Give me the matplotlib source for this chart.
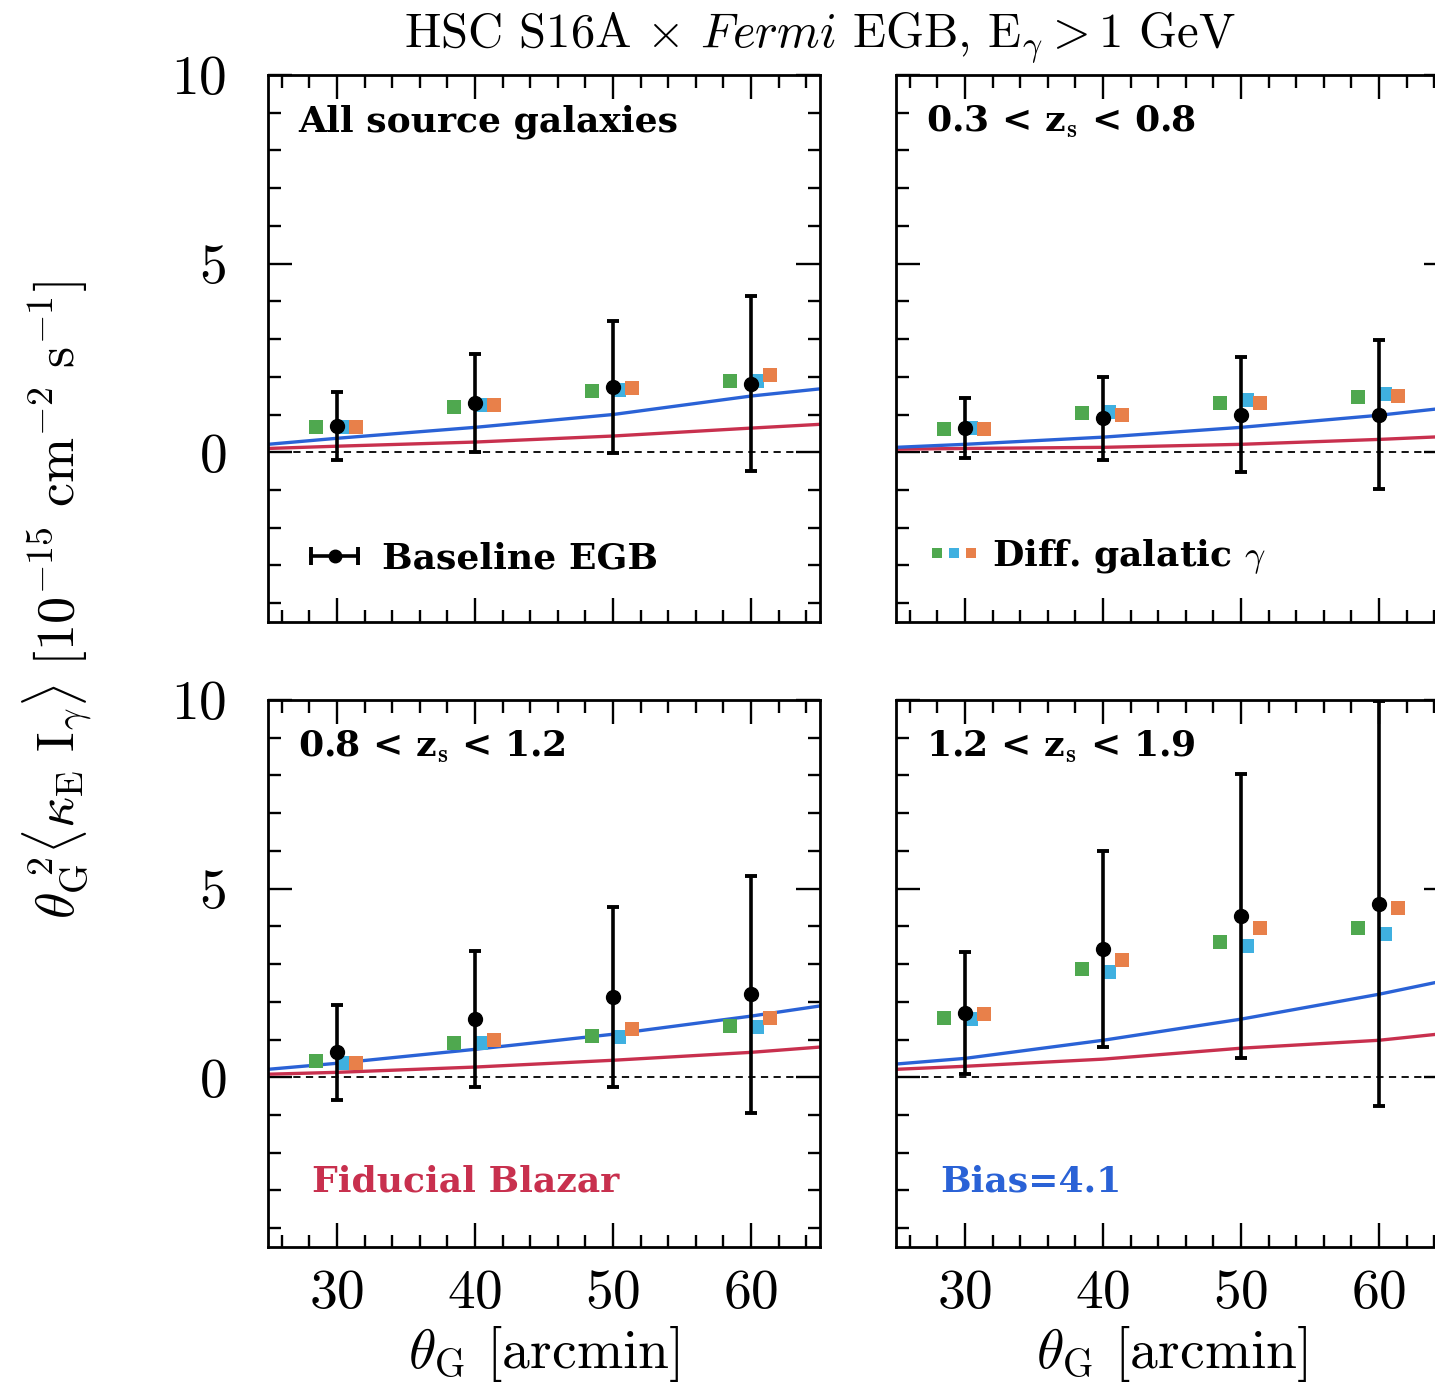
import numpy as np
import matplotlib
matplotlib.use('Agg')
import matplotlib.pyplot as plt
from matplotlib.lines import Line2D
from matplotlib.legend_handler import HandlerTuple, HandlerLine2D

plt.rcParams['font.family'] = 'cmr10'
plt.rcParams['mathtext.fontset'] = 'cm'
plt.rcParams['axes.formatter.use_mathtext'] = True

# measured points, theta_G in arcmin
theta = [30, 40, 50, 60]
theta_model = [25, 30, 40, 50, 60, 65]

labels = ['All source galaxies',
          r'0.3 < z$_\mathbf{s}$ < 0.8',
          r'0.8 < z$_\mathbf{s}$ < 1.2',
          r'1.2 < z$_\mathbf{s}$ < 1.9']

# baseline EGB cross-correlation and 1-sigma errors
egb = [[0.69, 1.30, 1.73, 1.81],
       [0.64, 0.90, 1.00, 1.00],
       [0.66, 1.54, 2.13, 2.20],
       [1.70, 3.40, 4.28, 4.60]]
egb_err = [[0.90, 1.30, 1.75, 2.32],
           [0.80, 1.10, 1.52, 1.97],
           [1.26, 1.81, 2.38, 3.14],
           [1.61, 2.60, 3.77, 5.37]]

# diffuse galactic gamma-ray model variants
diff_green = [[0.66, 1.20, 1.62, 1.89],
              [0.61, 1.04, 1.30, 1.46],
              [0.43, 0.90, 1.09, 1.36],
              [1.57, 2.87, 3.59, 3.96]]
diff_cyan = [[0.66, 1.25, 1.65, 1.89],
             [0.64, 1.07, 1.38, 1.54],
             [0.37, 0.90, 1.06, 1.33],
             [1.54, 2.80, 3.48, 3.80]]
diff_orange = [[0.66, 1.25, 1.70, 2.05],
               [0.61, 1.00, 1.30, 1.49],
               [0.37, 1.00, 1.28, 1.57],
               [1.68, 3.11, 3.96, 4.49]]

# model curves
bias_model = [[0.21, 0.37, 0.66, 1.00, 1.49, 1.68],
              [0.13, 0.21, 0.40, 0.66, 0.98, 1.18],
              [0.21, 0.37, 0.74, 1.14, 1.62, 1.89],
              [0.35, 0.50, 0.98, 1.54, 2.20, 2.58]]
blazar_model = [[0.10, 0.16, 0.27, 0.43, 0.64, 0.74],
                [0.08, 0.10, 0.13, 0.21, 0.34, 0.42],
                [0.08, 0.13, 0.27, 0.45, 0.66, 0.80],
                [0.21, 0.29, 0.48, 0.77, 0.98, 1.17]]

c_blue = '#2a62d6'
c_red = '#c8304e'
c_green = '#4fa84f'
c_cyan = '#3fb0e0'
c_orange = '#e8804a'

fig = plt.figure(figsize=(14.35, 13.86), dpi=100)
W, H = 1435.0, 1386.0
lefts = [268, 896]
tops = [75, 700]
aw, ah = 552, 547

axes = []
for r in range(2):
    for c in range(2):
        ax = fig.add_axes([lefts[c] / W, 1 - (tops[r] + ah) / H, aw / W, ah / H])
        axes.append(ax)

th = np.array(theta, dtype=float)
lab_font = {'family': 'DejaVu Serif', 'weight': 'bold', 'size': 26}
for i, ax in enumerate(axes):
    ax.axhline(0, color='k', ls=(0, (4, 3)), lw=1.3, zorder=1)
    ax.plot(theta_model, blazar_model[i], color=c_red, lw=2.4, zorder=2)
    ax.plot(theta_model, bias_model[i], color=c_blue, lw=2.4, zorder=2)
    ax.plot(th - 1.5, diff_green[i], 's', color=c_green, ms=9.5, mew=0, zorder=3)
    ax.plot(th + 0.4, diff_cyan[i], 's', color=c_cyan, ms=9.5, mew=0, zorder=3)
    ax.plot(th + 1.4, diff_orange[i], 's', color=c_orange, ms=9.5, mew=0, zorder=3)
    ax.errorbar(theta, egb[i], yerr=egb_err[i], fmt='o', color='k', ms=10,
                elinewidth=2.6, capsize=4.5, capthick=2.8, zorder=4)

    ax.set_xlim(25, 65)
    ax.set_ylim(-4.5, 10)
    ax.set_xticks([30, 40, 50, 60])
    ax.set_xticks(np.arange(26, 65, 2), minor=True)
    ax.set_yticks([0, 5, 10])
    ax.set_yticks(np.arange(-4, 10, 1), minor=True)
    ax.tick_params(which='both', direction='in', top=True, right=True,
                   bottom=True, left=True, labelsize=40, width=1.7)
    ax.tick_params(which='major', length=17)
    ax.tick_params(which='minor', length=9)
    ax.tick_params(axis='x', pad=16)
    ax.tick_params(axis='y', pad=30)
    for s in ax.spines.values():
        s.set_linewidth(2)
    if i % 2 == 1:
        ax.tick_params(labelleft=False)
    if i < 2:
        ax.tick_params(labelbottom=False)
    else:
        ax.set_xlabel(r'$\theta_{\rm G}$ [arcmin]', fontsize=40, labelpad=4)

    ax.text(0.055, 0.915, labels[i], transform=ax.transAxes,
            fontdict=lab_font, va='center', ha='left')

# legends
egb_bar = Line2D([], [], color='k', lw=2.6, marker='|', ms=13, mew=2.8)
egb_dot = Line2D([], [], ls='none', color='k', marker='o', ms=9)
axes[0].legend([(egb_bar, egb_dot)], ['Baseline EGB'], loc='lower left',
               bbox_to_anchor=(0.0, 0.025), frameon=False, handlelength=1.9,
               handletextpad=0.35, numpoints=1, prop=lab_font,
               handler_map={tuple: HandlerTuple(ndivide=1),
                            egb_bar: HandlerLine2D(numpoints=2)})

sq = [Line2D([], [], ls='none', marker='s', color=cc, ms=7, mew=0)
      for cc in (c_green, c_cyan, c_orange)]
axes[1].legend([tuple(sq)], [r'Diff. galatic $\gamma$'], loc='lower left',
               bbox_to_anchor=(0.0, 0.025), frameon=False, handlelength=1.4,
               handletextpad=0.35, handler_map={tuple: HandlerTuple(ndivide=None, pad=0.0)},
               prop=lab_font)

axes[2].text(0.08, 0.12, 'Fiducial Blazar', transform=axes[2].transAxes,
             fontdict=lab_font, color=c_red, va='center', ha='left')
axes[3].text(0.08, 0.12, 'Bias=4.1', transform=axes[3].transAxes,
             fontdict=lab_font, color=c_blue, va='center', ha='left')

fig.text(820 / W, 1 - 38 / H,
         r'HSC S16A $\times$ $\mathit{Fermi}$ EGB, E$_\gamma$$>$1 GeV',
         fontsize=35, ha='center', va='center')
fig.text(58 / W, 1 - 600 / H,
         r'$\theta_{\rm G}^{\ 2}\langle\kappa_{\rm E}\ {\rm I}_\gamma\rangle\ [10^{-15}\ {\rm cm}^{-2}\ {\rm s}^{-1}]$',
         fontsize=39, rotation=90, ha='center', va='center')

fig.savefig('out.png', dpi=100)
